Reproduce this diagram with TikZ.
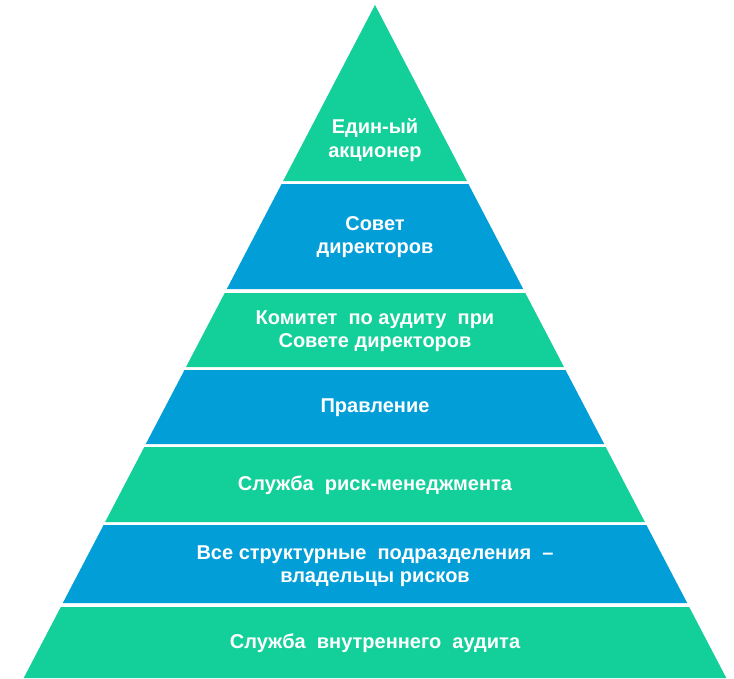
\documentclass[tikz,border=0pt]{standalone}
\usepackage{fontspec}
\setmainfont{Liberation Sans}
\usepackage{tikz}

\definecolor{lvlgreen}{RGB}{19,207,153}
\definecolor{lvlblue}{RGB}{2,158,216}

\begin{document}
\begin{tikzpicture}[x=0.75pt,y=0.75pt,yscale=-1,xscale=1,
  lvltext/.style={anchor=center,inner sep=0.75pt,align=center,text=white,
    font=\fontsize{15}{17.5}\selectfont\bfseries}]
\useasboundingbox (0,0) rectangle (734,678);

%Shape: Triangle [id:lvl1] 
\fill [lvlgreen] (375,5) -- (466.9,181) -- (283.1,181) -- cycle ;
%Shape: Trapezoid [id:lvl2] 
\fill [lvlblue] (281.6,184) -- (468.4,184) -- (523.2,289) -- (226.8,289) -- cycle ;
%Shape: Trapezoid [id:lvl3] 
\fill [lvlgreen] (224.7,293) -- (525.3,293) -- (564,367) -- (186,367) -- cycle ;
%Shape: Trapezoid [id:lvl4] 
\fill [lvlblue] (184.5,370) -- (565.5,370) -- (604.2,444) -- (145.8,444) -- cycle ;
%Shape: Trapezoid [id:lvl5] 
\fill [lvlgreen] (144.3,447) -- (605.7,447) -- (644.9,522) -- (105.1,522) -- cycle ;
%Shape: Trapezoid [id:lvl6] 
\fill [lvlblue] (103.6,525) -- (646.4,525) -- (687.2,603) -- (62.8,603) -- cycle ;
%Shape: Trapezoid [id:lvl7] 
\fill [lvlgreen] (60.8,607) -- (689.2,607) -- (726.3,678) -- (23.7,678) -- cycle ;

% Text Node
\node [lvltext] (shareholder) at (375,140) {Един-ый\\акционер};
% Text Node
\node [lvltext] (board) at (375,237) {Совет\\директоров};
% Text Node
\node [lvltext] (auditcommittee) at (375,331) {Комитет\ \ по аудиту\ \ при\\Совете директоров};
% Text Node
\node [lvltext] (management) at (375,408) {Правление};
% Text Node
\node [lvltext] (riskservice) at (375,485) {Служба\ \ риск-менеджмента};
% Text Node
\node [lvltext] (riskowners) at (375,566) {Все структурные\ \ подразделения\ \ --\\владельцы рисков};
% Text Node
\node [lvltext] (internalaudit) at (375,643) {Служба\ \ внутреннего\ \ аудита};
\end{tikzpicture}
\end{document}
